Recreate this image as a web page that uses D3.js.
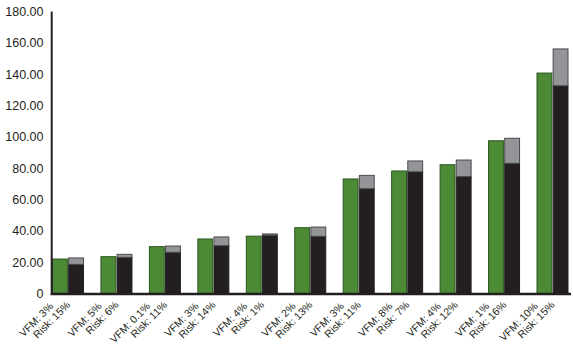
<!DOCTYPE html>
<html>
<head>
<meta charset="utf-8">
<script src="https://cdn.jsdelivr.net/npm/d3@7"></script>
<style>
  body { margin: 0; background: #fff; }
  svg { display: block; }
  text { font-family: "Liberation Sans", Arial, Helvetica, sans-serif; fill: #231f20; }
</style>
</head>
<body>
<div id="chart"></div>
<script>
// values
var vfmLabels = ["VFM: 3%", "VFM: 5%", "VFM: 0.1%", "VFM: 3%", "VFM: 4%", "VFM: 2%",
                 "VFM: 3%", "VFM: 8%", "VFM: 4%", "VFM: 1%", "VFM: 10%"];
var riskLabels = ["Risk: 15%", "Risk: 6%", "Risk: 11%", "Risk: 14%", "Risk: 1%", "Risk: 13%",
                  "Risk: 11%", "Risk: 7%", "Risk: 12%", "Risk: 16%", "Risk: 15%"];
var greenVals = [22.0, 23.5, 29.9, 34.8, 36.6, 42.0, 73.1, 78.2, 82.2, 97.5, 140.7];
var blackVals = [18.6, 23.1, 26.3, 30.5, 37.2, 36.5, 66.9, 77.7, 74.6, 83.1, 132.6];
var grayVals  = [4.1, 1.9, 4.0, 5.6, 0.8, 5.9, 8.5, 6.9, 10.6, 16.0, 23.5];
var yTicks = [0, 20, 40, 60, 80, 100, 120, 140, 160, 180];

function draw() {
    var w = 573, h = 354;
    var svg = d3.select("#chart").append("svg")
        .attr("width", w)
        .attr("height", h);

    var groups = d3.range(greenVals.length);
    var x = d3.scaleBand()
        .domain(groups)
        .range([52.5, 568])
        .paddingInner(0.36)
        .paddingOuter(0);
    var xs = d3.scaleBand()
        .domain(["vfm", "risk"])
        .range([0, x.bandwidth()])
        .paddingInner(0.08);
    var y = d3.scaleLinear()
        .domain([0, 180])
        .range([293.5, 11.5]);

    // y tick labels (no tick marks)
    svg.selectAll(".ylab").data(yTicks).enter().append("text")
        .attr("class", "ylab")
        .attr("x", 43.5)
        .attr("y", function(d) { return y(d); })
        .attr("dy", "0.35em")
        .attr("text-anchor", "end")
        .style("font-size", "12.5px")
        .text(function(d) { return d === 0 ? "0" : d3.format(".2f")(d); });

    var g = svg.selectAll(".grp").data(groups).enter().append("g")
        .attr("class", "grp")
        .attr("transform", function(i) { return "translate(" + x(i) + ",0)"; });

    // green bars
    g.append("rect")
        .attr("x", xs("vfm"))
        .attr("y", function(i) { return y(greenVals[i]); })
        .attr("width", xs.bandwidth())
        .attr("height", function(i) { return y(0) - y(greenVals[i]); })
        .attr("fill", "#4d8a36")
        .attr("stroke", "#2c5620")
        .attr("stroke-width", 1);

    // black base
    g.append("rect")
        .attr("x", xs("risk"))
        .attr("y", function(i) { return y(blackVals[i]); })
        .attr("width", xs.bandwidth())
        .attr("height", function(i) { return y(0) - y(blackVals[i]); })
        .attr("fill", "#231f20")
        .attr("stroke", "#231f20")
        .attr("stroke-width", 1);

    // gray top
    g.append("rect")
        .attr("x", xs("risk"))
        .attr("y", function(i) { return y(blackVals[i] + grayVals[i]); })
        .attr("width", xs.bandwidth())
        .attr("height", function(i) { return y(blackVals[i]) - y(blackVals[i] + grayVals[i]); })
        .attr("fill", "#939598")
        .attr("stroke", "#4a4a4c")
        .attr("stroke-width", 1);

    // axes lines
    svg.append("line")
        .attr("x1", 51.7).attr("x2", 51.7)
        .attr("y1", y(180)).attr("y2", y(0) + 1.5)
        .attr("stroke", "#231f20")
        .attr("stroke-width", 2);
    svg.append("line")
        .attr("x1", 50.7).attr("x2", 571)
        .attr("y1", y(0) + 0.5).attr("y2", y(0) + 0.5)
        .attr("stroke", "#231f20")
        .attr("stroke-width", 2.6);

    // rotated category labels
    var lab = svg.selectAll(".xlab").data(groups).enter().append("text")
        .attr("class", "xlab")
        .attr("transform", function(i) {
            return "translate(" + (x(i) + x.bandwidth() / 2 - 14) + ",307) rotate(-45)";
        })
        .attr("text-anchor", "end")
        .style("font-size", "10.5px");
    lab.append("tspan")
        .attr("x", 0).attr("y", 0)
        .text(function(i) { return vfmLabels[i]; });
    lab.append("tspan")
        .attr("x", 13).attr("y", 11)
        .text(function(i) { return riskLabels[i]; });
}

draw();
</script>
</body>
</html>
